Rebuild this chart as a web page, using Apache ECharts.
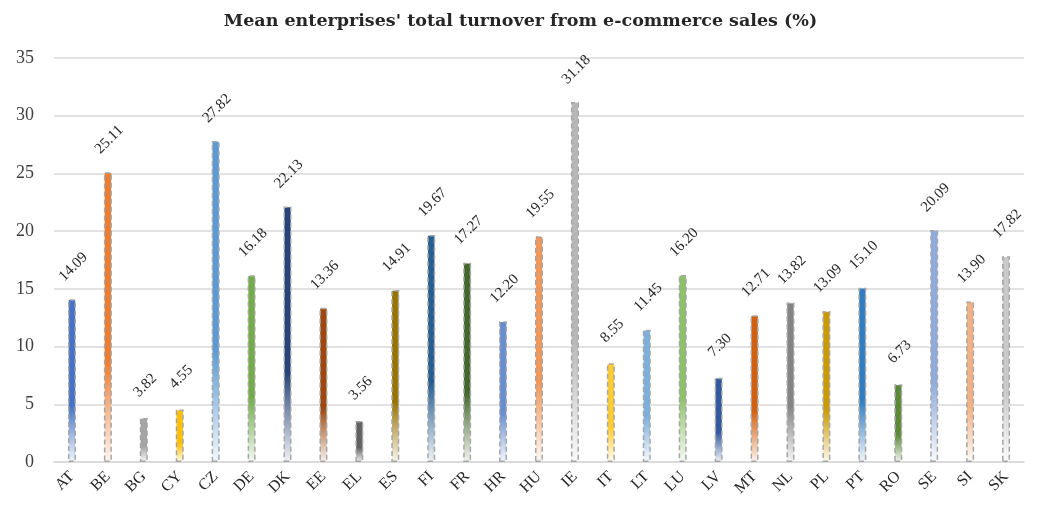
<!DOCTYPE html>
<html>
<head>
<meta charset="utf-8">
<script src="https://cdn.jsdelivr.net/npm/echarts@6/dist/echarts.min.js"></script>
<style>
  html, body { margin: 0; padding: 0; background: #ffffff; }
  #chart { width: 1041px; height: 505px; }
</style>
</head>
<body>
<div id="chart"></div>
<script>
// Countries (EU member state codes)
const countries = ['AT','BE','BG','CY','CZ','DE','DK','EE','EL','ES','FI','FR','HR','HU','IE',
                   'IT','LT','LU','LV','MT','NL','PL','PT','RO','SE','SI','SK'];

// Mean share of total turnover from e-commerce sales (%)
const turnover = [14.09, 25.11, 3.82, 4.55, 27.82, 16.18, 22.13, 13.36, 3.56, 14.91, 19.67, 17.27, 12.20, 19.55, 31.18,
                  8.55, 11.45, 16.20, 7.30, 12.71, 13.82, 13.09, 15.10, 6.73, 20.09, 13.90, 17.82];

// Per-bar colours (office palette with its tints and shades)
const barColors = ['#4472C4','#ED7D31','#A5A5A5','#FFC000','#5B9BD5','#70AD47','#264478','#9E480E','#636363','#997300',
                   '#255E91','#43682B','#698ED0','#F1975A','#B7B7B7','#FFCD33','#7CAFDD','#8CC168','#335AA1','#D26012',
                   '#848484','#CC9A00','#327DC2','#5A8A39','#8FAADC','#F4B183','#C9C9C9'];

const yTicks = [0, 5, 10, 15, 20, 25, 30, 35];

function mixWhite(hex, t) {
  const n = parseInt(hex.slice(1), 16);
  const r = (n >> 16) & 255, g = (n >> 8) & 255, b = n & 255;
  const f = c => Math.round(c + (255 - c) * t);
  return 'rgb(' + f(r) + ',' + f(g) + ',' + f(b) + ')';
}

const serif = '"Liberation Serif", "DejaVu Serif", serif';

const chart = echarts.init(document.getElementById('chart'), null, { renderer: 'canvas' });

const seriesData = turnover.map((v, i) => ({
  value: v,
  itemStyle: {
    color: new echarts.graphic.LinearGradient(0, 0, 0, 1, [
      { offset: 0, color: barColors[i] },
      { offset: 0.65, color: barColors[i] },
      { offset: 1, color: mixWhite(barColors[i], 0.93) }
    ])
  }
}));

chart.setOption({
  animation: false,
  backgroundColor: '#ffffff',
  title: {
    text: "Mean enterprises' total turnover from e-commerce sales (%)",
    left: 'center',
    top: 7,
    textStyle: { fontFamily: '"DejaVu Serif", serif', fontSize: 17.5, fontWeight: 'bold', color: '#262626' }
  },
  grid: { left: 54, right: 17, top: 58, bottom: 43 },
  xAxis: {
    type: 'category',
    data: countries,
    axisLine: { lineStyle: { color: '#d9d9d9', width: 1.5 } },
    axisTick: { show: false },
    axisLabel: { rotate: 45, fontFamily: serif, fontSize: 16, color: '#262626', margin: 12, interval: 0 }
  },
  yAxis: {
    type: 'value',
    min: yTicks[0],
    max: yTicks[yTicks.length - 1],
    interval: 5,
    axisLine: { show: false },
    axisTick: { show: false },
    splitLine: { lineStyle: { color: '#d9d9d9', width: 1.5 } },
    axisLabel: { fontFamily: serif, fontSize: 18, color: '#404040', margin: 20 }
  },
  series: [{
    type: 'bar',
    data: seriesData,
    barWidth: 8,
    itemStyle: { borderColor: '#a6a6a6', borderWidth: 1.5, borderType: [5, 3] },
    label: {
      show: true,
      position: 'top',
      distance: 31,
      offset: [2, 0],
      rotate: 45,
      align: 'center',
      verticalAlign: 'middle',
      fontFamily: serif,
      fontSize: 15,
      color: '#262626',
      formatter: p => p.value.toFixed(2)
    }
  }]
});
</script>
</body>
</html>
